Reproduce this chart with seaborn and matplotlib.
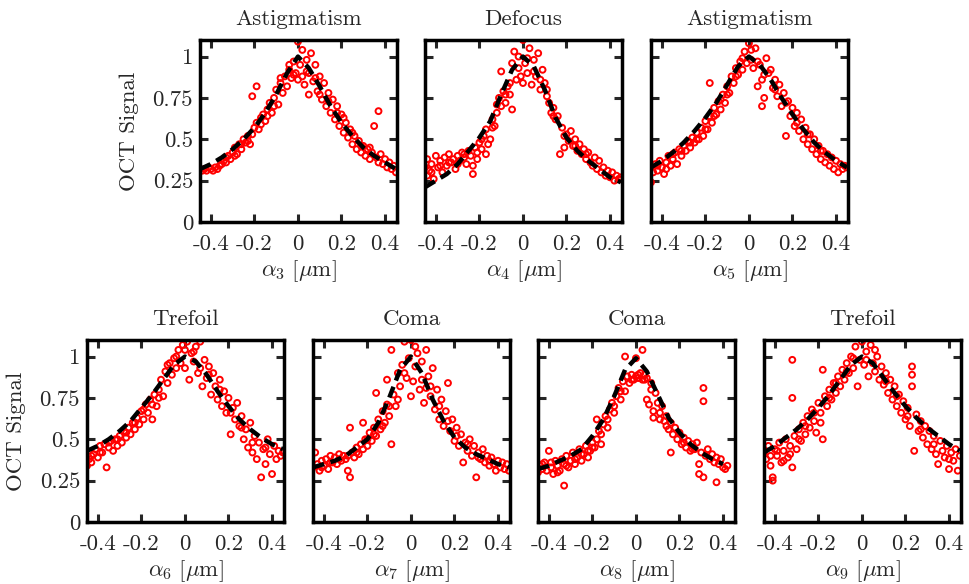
"""
Seven-panel figure: OCT signal vs. Zernike coefficient, with the fitted curve.
"""

import matplotlib
matplotlib.use("Agg")
import matplotlib.pyplot as plt
import numpy as np
import pandas as pd
import seaborn as sns

# ---- data --------------------------------------------------------------
TITLES = ["Astigmatism", "Defocus", "Astigmatism",
          "Trefoil", "Coma", "Coma", "Trefoil"]
INDICES = [3, 4, 5, 6, 7, 8, 9]

# fitted (dashed) curves, sampled at these x positions
FIT_X = [-0.45, -0.4, -0.35, -0.3, -0.25, -0.2, -0.15, -0.1, -0.05, 0.0,
         0.05, 0.1, 0.15, 0.2, 0.25, 0.3, 0.35, 0.4, 0.45]
FIT_A3 = [0.32, 0.35, 0.39, 0.44, 0.50, 0.57, 0.66, 0.77, 0.90, 1.00,
          0.93, 0.82, 0.70, 0.60, 0.52, 0.45, 0.40, 0.36, 0.32]
FIT_A4 = [0.21, 0.25, 0.29, 0.35, 0.43, 0.51, 0.61, 0.77, 0.92, 1.00,
          0.94, 0.80, 0.63, 0.51, 0.43, 0.37, 0.32, 0.27, 0.24]
FIT_A5 = [0.33, 0.37, 0.42, 0.48, 0.55, 0.63, 0.72, 0.83, 0.94, 1.00,
          0.95, 0.86, 0.75, 0.65, 0.56, 0.48, 0.42, 0.37, 0.33]
FIT_A6 = [0.43, 0.46, 0.50, 0.55, 0.61, 0.69, 0.77, 0.86, 0.95, 1.00,
          0.97, 0.89, 0.79, 0.70, 0.62, 0.56, 0.51, 0.47, 0.44]
FIT_A7 = [0.33, 0.35, 0.37, 0.40, 0.45, 0.50, 0.60, 0.75, 0.92, 1.00,
          0.90, 0.74, 0.61, 0.51, 0.45, 0.41, 0.38, 0.35, 0.33]
FIT_A8 = [0.32, 0.34, 0.37, 0.40, 0.44, 0.52, 0.62, 0.76, 0.92, 0.99,
          0.91, 0.77, 0.63, 0.54, 0.47, 0.42, 0.38, 0.35, None]
FIT_A9 = [0.42, 0.46, 0.51, 0.56, 0.62, 0.69, 0.77, 0.86, 0.95, 1.00,
          0.96, 0.87, 0.78, 0.70, 0.63, 0.57, 0.52, 0.47, 0.43]

# measured points (x, signal)
PTS_A3 = [(-0.44, 0.31), (-0.43, 0.32), (-0.42, 0.31), (-0.41, 0.33), (-0.40, 0.32),
          (-0.39, 0.31), (-0.38, 0.33), (-0.37, 0.32), (-0.36, 0.34), (-0.35, 0.35),
          (-0.34, 0.37), (-0.33, 0.36), (-0.32, 0.40), (-0.31, 0.38), (-0.30, 0.42),
          (-0.29, 0.45), (-0.28, 0.41), (-0.27, 0.47), (-0.26, 0.44), (-0.25, 0.50),
          (-0.24, 0.48), (-0.23, 0.52), (-0.22, 0.47), (-0.21, 0.53), (-0.21, 0.76),
          (-0.20, 0.57), (-0.19, 0.82), (-0.19, 0.60), (-0.18, 0.56), (-0.17, 0.63),
          (-0.16, 0.65), (-0.15, 0.61), (-0.14, 0.68), (-0.13, 0.72), (-0.12, 0.66),
          (-0.11, 0.75), (-0.10, 0.80), (-0.09, 0.71), (-0.08, 0.84), (-0.07, 0.78),
          (-0.06, 0.88), (-0.05, 0.82), (-0.04, 0.92), (-0.03, 0.87), (-0.02, 0.97),
          (-0.01, 0.90), (0.00, 1.09), (0.00, 0.86), (0.01, 0.95), (0.02, 1.04),
          (0.03, 0.83), (0.04, 0.98), (0.05, 0.77), (0.05, 0.90), (0.06, 1.02),
          (0.07, 0.85), (0.08, 0.95), (0.09, 0.79), (0.10, 0.88), (0.11, 0.74),
          (0.12, 0.84), (0.13, 0.70), (0.14, 0.78), (0.15, 0.66), (0.16, 0.74),
          (0.17, 0.62), (0.18, 0.70), (0.19, 0.58), (0.20, 0.65), (0.21, 0.54),
          (0.22, 0.60), (0.23, 0.51), (0.24, 0.56), (0.25, 0.47), (0.26, 0.52),
          (0.27, 0.44), (0.28, 0.49), (0.29, 0.42), (0.30, 0.46), (0.31, 0.40),
          (0.32, 0.44), (0.33, 0.38), (0.34, 0.42), (0.35, 0.58), (0.36, 0.39),
          (0.37, 0.67), (0.37, 0.36), (0.38, 0.41), (0.39, 0.35), (0.40, 0.38),
          (0.41, 0.33), (0.42, 0.36), (0.43, 0.32), (0.44, 0.34), (0.45, 0.30),
          (-0.33, 0.39), (-0.29, 0.40), (-0.26, 0.47), (-0.23, 0.49), (-0.17, 0.59),
          (-0.14, 0.64), (-0.11, 0.70), (-0.08, 0.87), (-0.04, 0.95), (-0.02, 0.89),
          (0.02, 0.88), (0.04, 0.91), (0.08, 0.87), (0.10, 0.77), (0.14, 0.73),
          (0.18, 0.66), (0.21, 0.63), (0.25, 0.54), (0.29, 0.46), (0.33, 0.45)]
PTS_A4 = [(-0.45, 0.33), (-0.44, 0.28), (-0.44, 0.38), (-0.43, 0.31), (-0.42, 0.35),
          (-0.41, 0.26), (-0.40, 0.40), (-0.39, 0.33), (-0.38, 0.37), (-0.37, 0.30),
          (-0.36, 0.39), (-0.35, 0.34), (-0.34, 0.41), (-0.33, 0.36), (-0.32, 0.38),
          (-0.31, 0.32), (-0.30, 0.40), (-0.29, 0.37), (-0.28, 0.42), (-0.27, 0.39),
          (-0.26, 0.35), (-0.25, 0.43), (-0.24, 0.40), (-0.23, 0.29), (-0.23, 0.34),
          (-0.22, 0.45), (-0.21, 0.42), (-0.20, 0.48), (-0.19, 0.44), (-0.18, 0.52),
          (-0.17, 0.41), (-0.17, 0.56), (-0.16, 0.47), (-0.15, 0.50), (-0.14, 0.62),
          (-0.13, 0.58), (-0.12, 0.66), (-0.11, 0.75), (-0.10, 0.91), (-0.10, 0.70),
          (-0.09, 0.79), (-0.08, 0.72), (-0.07, 0.82), (-0.06, 0.77), (-0.05, 0.68),
          (-0.05, 0.96), (-0.04, 1.03), (-0.03, 0.86), (-0.02, 1.00), (-0.01, 0.88),
          (0.00, 1.10), (0.00, 0.84), (0.01, 0.96), (0.02, 0.90), (0.03, 1.05),
          (0.04, 0.83), (0.05, 0.98), (0.06, 0.88), (0.07, 1.02), (0.08, 0.80),
          (0.09, 0.92), (0.10, 0.84), (0.11, 0.76), (0.12, 0.72), (0.13, 0.66),
          (0.14, 0.69), (0.15, 0.62), (0.16, 0.64), (0.17, 0.41), (0.18, 0.57),
          (0.19, 0.45), (0.20, 0.53), (0.21, 0.49), (0.22, 0.55), (0.23, 0.46),
          (0.24, 0.50), (0.25, 0.43), (0.26, 0.47), (0.27, 0.41), (0.28, 0.44),
          (0.29, 0.38), (0.30, 0.42), (0.31, 0.36), (0.32, 0.34), (0.33, 0.39),
          (0.34, 0.32), (0.35, 0.37), (0.36, 0.30), (0.37, 0.33), (0.38, 0.28),
          (0.39, 0.31), (0.40, 0.27), (0.41, 0.30), (0.42, 0.25), (0.43, 0.28),
          (0.44, 0.26), (0.45, 0.27),
          (-0.42, 0.30), (-0.38, 0.34), (-0.34, 0.36), (-0.30, 0.35), (-0.27, 0.41),
          (-0.21, 0.38), (-0.19, 0.50), (-0.14, 0.57), (-0.12, 0.71), (-0.08, 0.77),
          (-0.06, 0.84), (-0.02, 0.93), (0.02, 0.99), (0.05, 0.91), (0.08, 0.86),
          (0.11, 0.80), (0.14, 0.64), (0.19, 0.52), (0.24, 0.46), (0.29, 0.41)]
PTS_A5 = [(-0.45, 0.24), (-0.45, 0.33), (-0.44, 0.30), (-0.43, 0.35), (-0.42, 0.31),
          (-0.41, 0.37), (-0.40, 0.33), (-0.39, 0.29), (-0.38, 0.36), (-0.37, 0.40),
          (-0.36, 0.34), (-0.35, 0.38), (-0.34, 0.42), (-0.33, 0.35), (-0.32, 0.44),
          (-0.31, 0.40), (-0.30, 0.46), (-0.29, 0.43), (-0.28, 0.49), (-0.27, 0.45),
          (-0.26, 0.51), (-0.25, 0.48), (-0.24, 0.54), (-0.23, 0.50), (-0.22, 0.57),
          (-0.21, 0.52), (-0.20, 0.61), (-0.19, 0.56), (-0.18, 0.84), (-0.18, 0.64),
          (-0.17, 0.60), (-0.16, 0.69), (-0.15, 0.65), (-0.14, 0.73), (-0.13, 0.68),
          (-0.12, 0.77), (-0.11, 0.72), (-0.10, 0.82), (-0.09, 0.78), (-0.08, 0.88),
          (-0.07, 0.84), (-0.06, 0.93), (-0.05, 0.89), (-0.04, 0.97), (-0.03, 0.92),
          (-0.02, 1.03), (-0.01, 0.96), (0.00, 1.08), (0.01, 0.98), (0.02, 0.93),
          (0.03, 1.05), (0.04, 0.82), (0.05, 0.95), (0.06, 0.70), (0.06, 0.86),
          (0.07, 0.75), (0.08, 0.99), (0.09, 0.90), (0.10, 0.92), (0.11, 0.81),
          (0.12, 0.86), (0.13, 0.76), (0.14, 0.83), (0.15, 0.70), (0.16, 0.78),
          (0.17, 0.52), (0.18, 0.73), (0.19, 0.64), (0.20, 0.69), (0.21, 0.58),
          (0.22, 0.66), (0.23, 0.55), (0.24, 0.62), (0.25, 0.50), (0.26, 0.57),
          (0.27, 0.47), (0.28, 0.53), (0.29, 0.44), (0.30, 0.50), (0.31, 0.41),
          (0.32, 0.46), (0.33, 0.38), (0.34, 0.43), (0.35, 0.36), (0.36, 0.41),
          (0.37, 0.34), (0.38, 0.39), (0.39, 0.32), (0.40, 0.37), (0.41, 0.30),
          (0.42, 0.35), (0.43, 0.32), (0.44, 0.34), (0.45, 0.33),
          (-0.42, 0.34), (-0.38, 0.32), (-0.35, 0.41), (-0.31, 0.43), (-0.27, 0.48),
          (-0.24, 0.50), (-0.20, 0.56), (-0.16, 0.64), (-0.13, 0.74), (-0.10, 0.77),
          (-0.06, 0.88), (-0.03, 0.99), (0.01, 1.04), (0.04, 0.97), (0.07, 0.89),
          (0.12, 0.80), (0.17, 0.72), (0.22, 0.60), (0.27, 0.53), (0.33, 0.43)]
PTS_A6 = [(-0.45, 0.34), (-0.44, 0.38), (-0.43, 0.36), (-0.42, 0.41), (-0.41, 0.44),
          (-0.40, 0.39), (-0.39, 0.46), (-0.38, 0.42), (-0.37, 0.47), (-0.36, 0.33),
          (-0.35, 0.45), (-0.34, 0.49), (-0.33, 0.43), (-0.32, 0.50), (-0.31, 0.46),
          (-0.30, 0.52), (-0.29, 0.48), (-0.28, 0.55), (-0.27, 0.51), (-0.26, 0.57),
          (-0.25, 0.53), (-0.24, 0.60), (-0.23, 0.56), (-0.22, 0.63), (-0.21, 0.59),
          (-0.20, 0.67), (-0.19, 0.62), (-0.18, 0.71), (-0.17, 0.66), (-0.16, 0.74),
          (-0.15, 0.62), (-0.14, 0.77), (-0.13, 0.70), (-0.12, 0.80), (-0.11, 0.86),
          (-0.10, 0.76), (-0.09, 0.91), (-0.08, 0.84), (-0.07, 0.96), (-0.06, 0.89),
          (-0.05, 0.99), (-0.04, 0.93), (-0.03, 1.04), (-0.02, 0.96), (-0.01, 1.07),
          (0.00, 0.93), (0.01, 1.09), (0.02, 0.86), (0.03, 1.02), (0.04, 0.97),
          (0.05, 1.06), (0.06, 0.90), (0.07, 1.09), (0.08, 0.82), (0.09, 0.98),
          (0.10, 0.87), (0.11, 0.94), (0.12, 0.77), (0.13, 0.90), (0.14, 0.82),
          (0.15, 0.74), (0.16, 0.86), (0.17, 0.70), (0.18, 0.79), (0.19, 0.66),
          (0.20, 0.75), (0.21, 0.53), (0.22, 0.69), (0.23, 0.62), (0.24, 0.72),
          (0.25, 0.58), (0.26, 0.64), (0.27, 0.50), (0.28, 0.56), (0.29, 0.45),
          (0.30, 0.60), (0.31, 0.42), (0.32, 0.52), (0.33, 0.38), (0.34, 0.48),
          (0.35, 0.27), (0.36, 0.44), (0.37, 0.35), (0.38, 0.50), (0.39, 0.41),
          (0.40, 0.29), (0.41, 0.46), (0.42, 0.38), (0.43, 0.43), (0.44, 0.40),
          (0.45, 0.42),
          (-0.43, 0.40), (-0.39, 0.42), (-0.35, 0.48), (-0.31, 0.50), (-0.27, 0.54),
          (-0.23, 0.60), (-0.19, 0.68), (-0.15, 0.71), (-0.12, 0.75), (-0.08, 0.95),
          (-0.04, 1.00), (0.00, 1.04), (0.04, 1.03), (0.07, 0.93), (0.11, 0.89),
          (0.16, 0.80), (0.21, 0.66), (0.26, 0.57), (0.31, 0.48), (0.37, 0.45)]
PTS_A7 = [(-0.45, 0.33), (-0.44, 0.42), (-0.43, 0.35), (-0.42, 0.31), (-0.41, 0.37),
          (-0.40, 0.34), (-0.39, 0.38), (-0.38, 0.32), (-0.37, 0.40), (-0.36, 0.36),
          (-0.35, 0.39), (-0.34, 0.35), (-0.33, 0.41), (-0.32, 0.37), (-0.31, 0.40),
          (-0.30, 0.38), (-0.29, 0.31), (-0.28, 0.27), (-0.28, 0.57), (-0.27, 0.42),
          (-0.26, 0.39), (-0.25, 0.45), (-0.24, 0.41), (-0.23, 0.47), (-0.22, 0.60),
          (-0.22, 0.44), (-0.21, 0.50), (-0.20, 0.46), (-0.19, 0.54), (-0.18, 0.49),
          (-0.17, 0.57), (-0.16, 0.78), (-0.16, 0.52), (-0.15, 0.62), (-0.14, 0.56),
          (-0.13, 0.67), (-0.12, 0.60), (-0.11, 0.86), (-0.11, 0.71), (-0.10, 0.64),
          (-0.09, 0.47), (-0.09, 1.04), (-0.08, 0.77), (-0.07, 0.70), (-0.06, 0.90),
          (-0.05, 0.82), (-0.04, 0.95), (-0.03, 1.09), (-0.02, 0.87), (-0.01, 0.99),
          (0.00, 1.10), (0.00, 0.76), (0.01, 0.85), (0.02, 0.94), (0.03, 1.02),
          (0.04, 0.80), (0.05, 0.97), (0.06, 0.72), (0.07, 1.04), (0.07, 0.81),
          (0.08, 0.88), (0.09, 0.76), (0.10, 0.93), (0.11, 0.68), (0.12, 0.80),
          (0.13, 0.62), (0.14, 0.74), (0.15, 0.58), (0.16, 0.67), (0.17, 0.84),
          (0.18, 0.55), (0.19, 0.62), (0.20, 0.49), (0.21, 0.57), (0.22, 0.46),
          (0.23, 0.53), (0.24, 0.36), (0.25, 0.48), (0.26, 0.43), (0.27, 0.50),
          (0.28, 0.40), (0.29, 0.46), (0.30, 0.27), (0.31, 0.42), (0.32, 0.38),
          (0.33, 0.44), (0.34, 0.36), (0.35, 0.40), (0.36, 0.34), (0.37, 0.39),
          (0.38, 0.35), (0.39, 0.31), (0.40, 0.37), (0.41, 0.33), (0.42, 0.36),
          (0.43, 0.32), (0.44, 0.35), (0.45, 0.31),
          (-0.41, 0.33), (-0.37, 0.36), (-0.33, 0.38), (-0.29, 0.40), (-0.25, 0.42),
          (-0.20, 0.50), (-0.17, 0.53), (-0.13, 0.58), (-0.10, 0.70), (-0.06, 0.74),
          (-0.03, 0.90), (0.02, 1.06), (0.05, 0.86), (0.09, 0.82), (0.13, 0.70),
          (0.17, 0.61), (0.21, 0.52), (0.26, 0.47), (0.31, 0.39), (0.36, 0.37)]
PTS_A8 = [(-0.45, 0.30), (-0.44, 0.34), (-0.43, 0.32), (-0.42, 0.36), (-0.41, 0.31),
          (-0.40, 0.43), (-0.39, 0.33), (-0.38, 0.29), (-0.37, 0.37), (-0.36, 0.34),
          (-0.35, 0.31), (-0.34, 0.38), (-0.33, 0.22), (-0.33, 0.35), (-0.32, 0.40),
          (-0.31, 0.33), (-0.30, 0.37), (-0.29, 0.42), (-0.28, 0.35), (-0.27, 0.39),
          (-0.26, 0.44), (-0.25, 0.37), (-0.24, 0.41), (-0.23, 0.46), (-0.22, 0.39),
          (-0.21, 0.43), (-0.20, 0.48), (-0.19, 0.45), (-0.18, 0.62), (-0.18, 0.50),
          (-0.17, 0.55), (-0.16, 0.47), (-0.15, 0.59), (-0.14, 0.64), (-0.13, 0.57),
          (-0.12, 0.68), (-0.11, 0.72), (-0.10, 0.66), (-0.09, 0.76), (-0.08, 0.81),
          (-0.07, 0.74), (-0.06, 0.85), (-0.05, 1.00), (-0.05, 0.79), (-0.04, 0.88),
          (-0.03, 0.84), (-0.02, 0.89), (-0.01, 0.86), (0.00, 0.99), (0.00, 0.88),
          (0.01, 0.87), (0.02, 0.90), (0.03, 1.04), (0.03, 0.86), (0.04, 0.89),
          (0.05, 0.74), (0.05, 0.87), (0.06, 0.71), (0.07, 0.84), (0.08, 0.63),
          (0.08, 0.67), (0.09, 0.78), (0.10, 0.72), (0.11, 0.66), (0.12, 0.70),
          (0.13, 0.61), (0.14, 0.64), (0.15, 0.56), (0.16, 0.42), (0.16, 0.60),
          (0.17, 0.53), (0.18, 0.57), (0.19, 0.50), (0.20, 0.54), (0.21, 0.47),
          (0.22, 0.51), (0.23, 0.45), (0.24, 0.49), (0.25, 0.43), (0.26, 0.47),
          (0.27, 0.44), (0.28, 0.48), (0.29, 0.35), (0.29, 0.29), (0.30, 0.42),
          (0.31, 0.81), (0.31, 0.73), (0.31, 0.27), (0.32, 0.40), (0.33, 0.44),
          (0.34, 0.38), (0.35, 0.41), (0.36, 0.36), (0.37, 0.24), (0.37, 0.39),
          (0.38, 0.35), (0.39, 0.38), (0.40, 0.33), (0.41, 0.32), (0.42, 0.34),
          (-0.43, 0.35), (-0.39, 0.36), (-0.36, 0.30), (-0.32, 0.34), (-0.28, 0.38),
          (-0.25, 0.41), (-0.22, 0.43), (-0.20, 0.45), (-0.16, 0.53), (-0.13, 0.62),
          (-0.10, 0.70), (-0.07, 0.79), (-0.02, 0.86), (0.01, 0.89), (0.04, 0.86),
          (0.07, 0.80), (0.11, 0.62), (0.14, 0.58), (0.22, 0.48), (0.26, 0.44)]
PTS_A9 = [(-0.45, 0.42), (-0.44, 0.38), (-0.43, 0.46), (-0.42, 0.34), (-0.41, 0.27),
          (-0.41, 0.25), (-0.40, 0.44), (-0.39, 0.40), (-0.38, 0.48), (-0.37, 0.36),
          (-0.36, 0.43), (-0.35, 0.50), (-0.34, 0.39), (-0.33, 0.46), (-0.32, 0.98),
          (-0.32, 0.75), (-0.32, 0.33), (-0.31, 0.52), (-0.30, 0.44), (-0.29, 0.56),
          (-0.28, 0.49), (-0.27, 0.60), (-0.26, 0.53), (-0.25, 0.64), (-0.24, 0.57),
          (-0.23, 0.68), (-0.22, 0.61), (-0.21, 0.54), (-0.20, 0.72), (-0.19, 0.66),
          (-0.18, 0.92), (-0.18, 0.50), (-0.17, 0.76), (-0.16, 0.70), (-0.15, 0.80),
          (-0.14, 0.74), (-0.13, 0.84), (-0.12, 0.78), (-0.11, 0.88), (-0.10, 0.82),
          (-0.09, 0.92), (-0.08, 0.86), (-0.07, 0.96), (-0.06, 0.90), (-0.05, 1.00),
          (-0.04, 0.93), (-0.03, 1.06), (-0.02, 0.82), (-0.01, 0.98), (0.00, 1.09),
          (0.01, 0.95), (0.02, 1.03), (0.03, 0.88), (0.04, 1.07), (0.05, 0.96),
          (0.06, 0.91), (0.07, 1.00), (0.08, 0.86), (0.09, 0.94), (0.10, 0.83),
          (0.11, 0.90), (0.12, 0.78), (0.13, 0.86), (0.14, 0.74), (0.15, 0.82),
          (0.16, 0.70), (0.17, 0.77), (0.18, 0.66), (0.19, 0.73), (0.20, 0.62),
          (0.21, 0.69), (0.22, 0.58), (0.23, 0.94), (0.23, 0.89), (0.23, 0.82),
          (0.24, 0.43), (0.25, 0.65), (0.26, 0.55), (0.27, 0.61), (0.28, 0.51),
          (0.29, 0.58), (0.30, 0.47), (0.31, 0.55), (0.32, 0.44), (0.33, 0.52),
          (0.34, 0.41), (0.35, 0.35), (0.36, 0.49), (0.37, 0.43), (0.38, 0.39),
          (0.39, 0.46), (0.40, 0.32), (0.41, 0.42), (0.42, 0.37), (0.43, 0.44),
          (0.44, 0.31), (0.45, 0.40),
          (-0.42, 0.40), (-0.39, 0.43), (-0.36, 0.37), (-0.33, 0.41), (-0.29, 0.50),
          (-0.26, 0.58), (-0.22, 0.66), (-0.19, 0.60), (-0.15, 0.75), (-0.12, 0.84),
          (-0.07, 0.91), (-0.04, 0.99), (0.02, 0.98), (0.06, 1.04), (0.11, 0.85),
          (0.16, 0.76), (0.21, 0.64), (0.27, 0.56), (0.33, 0.47), (0.40, 0.38)]

X_TICKS = [-0.4, -0.2, 0.0, 0.2, 0.4]
X_TICKLABELS = ["-0.4", "-0.2", "0", "0.2", "0.4"]
Y_TICKS = [0.0, 0.25, 0.5, 0.75, 1.0]
Y_TICKLABELS = ["0", "0.25", "0.5", "0.75", "1"]

FITS = [FIT_A3, FIT_A4, FIT_A5, FIT_A6, FIT_A7, FIT_A8, FIT_A9]
POINTS = [PTS_A3, PTS_A4, PTS_A5, PTS_A6, PTS_A7, PTS_A8, PTS_A9]

# ---- style --------------------------------------------------------------
FS = 16.5
sns.set_style("ticks")
plt.rcParams.update({
    "font.family": ["cmr10", "DejaVu Serif"],
    "mathtext.fontset": "cm",
    "axes.unicode_minus": False,
    "axes.formatter.use_mathtext": True,
    "font.size": FS,
})

# axes boxes in figure pixels (left, top) for a 970x584 canvas
W, H = 970, 584
BOXES = [(200, 40), (425, 40), (651, 40),
         (87, 340), (313, 340), (538, 340), (764, 340)]
BOX_W, BOX_H = 197, 182

fig = plt.figure(figsize=(9.7, 5.84), dpi=100)

for i, (title, idx, fit, pts) in enumerate(zip(TITLES, INDICES, FITS, POINTS)):
    left, top = BOXES[i]
    ax = fig.add_axes([left / W, 1 - (top + BOX_H) / H, BOX_W / W, BOX_H / H])

    pts_df = pd.DataFrame(pts, columns=["x", "y"])
    fit_df = pd.DataFrame({"x": FIT_X, "y": fit}).dropna()

    sns.scatterplot(data=pts_df, x="x", y="y", ax=ax, marker="o", s=18,
                    facecolors="none", edgecolor="#ff0000", linewidth=1.4,
                    zorder=2)
    sns.lineplot(data=fit_df, x="x", y="y", ax=ax, color="black", lw=3.2,
                 dashes=False, zorder=3).lines[-1].set_dashes((2.6, 1.5))

    ax.set_xlim(-0.45, 0.455)
    ax.set_ylim(0, 1.1)
    ax.set_xticks(X_TICKS)
    ax.set_xticklabels(X_TICKLABELS)
    ax.set_yticks(Y_TICKS)
    if idx in (3, 6):
        ax.set_yticklabels(Y_TICKLABELS)
        ax.set_ylabel("OCT Signal", fontsize=FS, labelpad=10)
    else:
        ax.set_yticklabels([])
        ax.set_ylabel("")
    ax.set_xlabel(rf"$\alpha_{idx}\ [\mu\mathrm{{m}}]$", fontsize=FS, labelpad=3)
    ax.set_title(title, fontsize=FS, pad=11)

    ax.tick_params(direction="in", top=True, right=True, length=6, width=2.2,
                   labelsize=FS)
    ax.tick_params(axis="x", pad=9)
    ax.tick_params(axis="y", pad=5)
    for sp in ax.spines.values():
        sp.set_linewidth(2.5)
        sp.set_color("black")

fig.savefig("out.png", dpi=100)
